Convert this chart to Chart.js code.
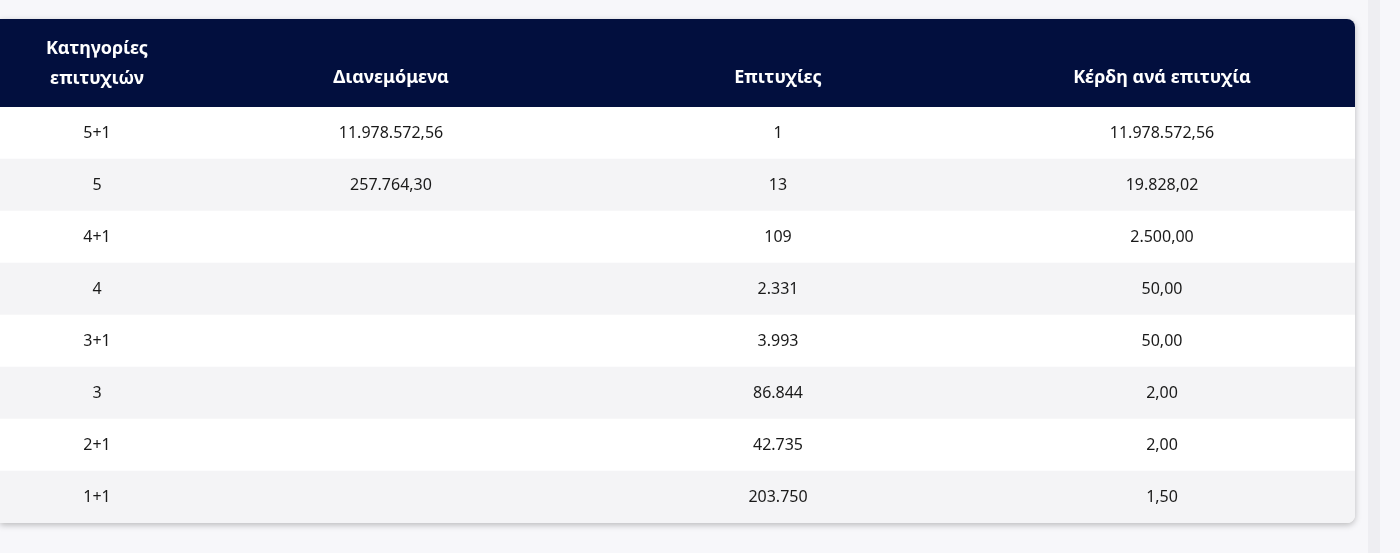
<!DOCTYPE html>
<html>
<head>
<meta charset="utf-8">
<script src="https://cdn.jsdelivr.net/npm/chart.js@4"></script>
<style>
  body { margin: 0; background: #f7f7fa; width: 1400px; height: 553px; overflow: hidden; }
  .card { position: absolute; left: 0; top: 19px; width: 1355px; height: 504px;
          border-radius: 0 8px 8px 0; overflow: hidden; background: #fff;
          box-shadow: 0 2px 6px rgba(0,0,0,0.25); }
  .bar { position: absolute; left: 1368px; top: 0; width: 12px; height: 553px; background: #eeeef2; }
</style>
</head>
<body>
<div class="card"><canvas id="tbl" width="1355" height="504"></canvas></div>
<div class="bar"></div>
<script>
// table data
const headers = [['Κατηγορίες', 'επιτυχιών'], ['Διανεμόμενα'], ['Επιτυχίες'], ['Κέρδη ανά επιτυχία']];
const categories = ['5+1', '5', '4+1', '4', '3+1', '3', '2+1', '1+1'];
const distributed = ['11.978.572,56', '257.764,30', '', '', '', '', '', ''];
const winners = ['1', '13', '109', '2.331', '3.993', '86.844', '42.735', '203.750'];
const prizes = ['11.978.572,56', '19.828,02', '2.500,00', '50,00', '50,00', '2,00', '2,00', '1,50'];

const colX = [97, 391, 778, 1162];
const headH = 88;
const font = '"Noto Sans", sans-serif';

const tablePlugin = {
  id: 'tablePlugin',
  beforeDraw(chart) {
    const ctx = chart.ctx;
    ctx.save();
    ctx.fillStyle = '#020f3e';
    ctx.fillRect(0, 0, chart.width, headH);
    ctx.fillStyle = '#ffffff';
    ctx.font = 'bold 18px ' + font;
    ctx.textAlign = 'center';
    ctx.textBaseline = 'middle';
    headers.forEach((h, i) => {
      if (h.length === 2) {
        ctx.fillText(h[0], colX[i], 30);
        ctx.fillText(h[1], colX[i], 60);
      } else {
        ctx.fillText(h[0], colX[i], 59);
      }
    });
    ctx.restore();
  },
  afterDatasetsDraw(chart) {
    const ctx = chart.ctx;
    const y = chart.scales.y;
    const cols = [categories, distributed, winners, prizes];
    ctx.save();
    ctx.fillStyle = '#1a1a1a';
    ctx.font = '16px ' + font;
    ctx.textAlign = 'center';
    ctx.textBaseline = 'middle';
    categories.forEach((c, r) => {
      const py = y.getPixelForValue(r);
      cols.forEach((col, i) => ctx.fillText(col[r], colX[i], py));
    });
    ctx.restore();
  }
};

new Chart(document.getElementById('tbl'), {
  type: 'bar',
  data: {
    labels: categories,
    datasets: [{
      data: categories.map(() => 1),
      backgroundColor: categories.map((c, i) => i % 2 ? '#f4f4f6' : '#ffffff'),
      barPercentage: 1,
      categoryPercentage: 1,
      borderWidth: 0
    }]
  },
  options: {
    indexAxis: 'y',
    responsive: false,
    animation: false,
    layout: { padding: { top: headH, left: 0, right: 0, bottom: 0 } },
    plugins: { legend: { display: false }, tooltip: { enabled: false } },
    scales: {
      x: { display: false, min: 0, max: 1 },
      y: { display: false }
    }
  },
  plugins: [tablePlugin]
});
</script>
</body>
</html>
